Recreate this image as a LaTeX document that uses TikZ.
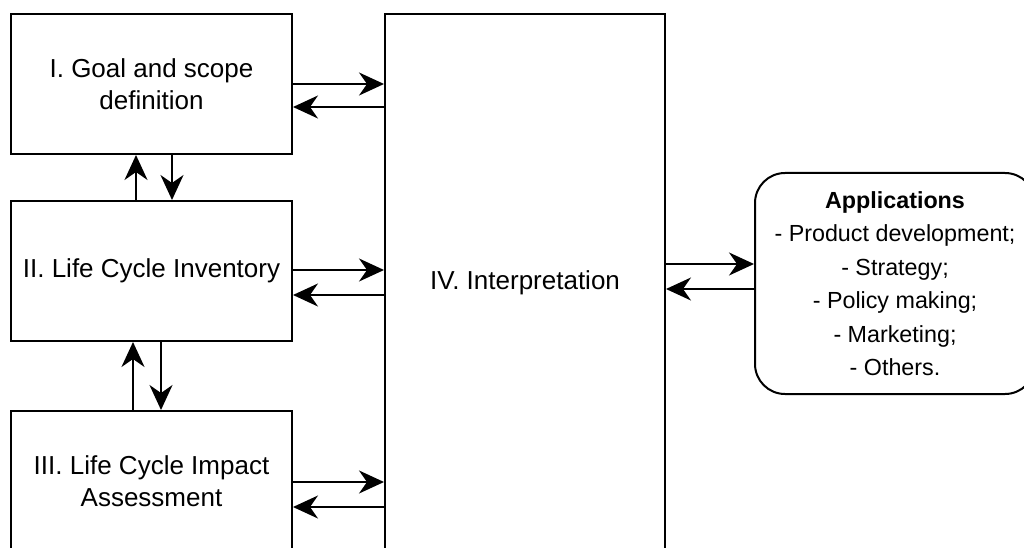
\documentclass[tikz,border=0pt]{standalone}
\usepackage{fontspec}
\setmainfont{Liberation Sans}
\usetikzlibrary{arrows.meta,calc}
\begin{document}
\begin{tikzpicture}[x=1pt,y=-1pt,
  box/.style={draw,line width=2pt,minimum width=281pt,align=center,
    font=\fontsize{26}{32}\selectfont,inner sep=0pt},
  appbox/.style={draw,line width=2pt,rounded corners=30pt,minimum width=280pt,
    minimum height=221pt,align=center,font=\fontsize{23.3}{33.5}\selectfont,inner sep=0pt},
  arr/.style={line width=2pt,-{Stealth[length=25pt,width=23pt,inset=8pt]}}]
\useasboundingbox (0,0) rectangle (1024,548);
% stage boxes
\node[box,minimum height=140pt] (I) at (151.5,84) {I. Goal and scope\\definition};
\node[box,minimum height=140pt] (II) at (151.5,271) {II. Life Cycle Inventory};
\node[box,minimum height=140pt] (III) at (151.5,481) {III. Life Cycle Impact\\Assessment};
\node[box,minimum width=280pt,minimum height=538pt] (IV) at (525,283) {IV. Interpretation};
\node[appbox] (A) at (895,283.5) {\textbf{Applications}\\- Product development;\\- Strategy;\\- Policy making;\\- Marketing;\\- Others.};
% exchanges with the interpretation phase
\draw[arr] (I.east) -- (I.east -| IV.west);
\draw[arr] ($(I.east -| IV.west)+(0,23)$) -- ($(I.east)+(0,23)$);
\draw[arr] ($(II.east)+(0,-1)$) -- ($(II.east -| IV.west)+(0,-1)$);
\draw[arr] ($(II.east -| IV.west)+(0,24)$) -- ($(II.east)+(0,24)$);
\draw[arr] ($(III.east)+(0,1)$) -- ($(III.east -| IV.west)+(0,1)$);
\draw[arr] ($(III.east -| IV.west)+(0,26)$) -- ($(III.east)+(0,26)$);
% exchanges with applications
\draw[arr] ($(A.west -| IV.east)+(0,-19.5)$) -- ($(A.west)+(0,-19.5)$);
\draw[arr] ($(A.west)+(0,5.5)$) -- ($(A.west -| IV.east)+(0,5.5)$);
% vertical exchanges between stages
\draw[arr] ($(II.north)+(-15.5,0)$) -- ($(I.south)+(-15.5,0)$);
\draw[arr] ($(I.south)+(20.5,0)$) -- ($(II.north)+(20.5,0)$);
\draw[arr] ($(III.north)+(-18.5,0)$) -- ($(II.south)+(-18.5,0)$);
\draw[arr] ($(II.south)+(9.5,0)$) -- ($(III.north)+(9.5,0)$);
\end{tikzpicture}
\end{document}
